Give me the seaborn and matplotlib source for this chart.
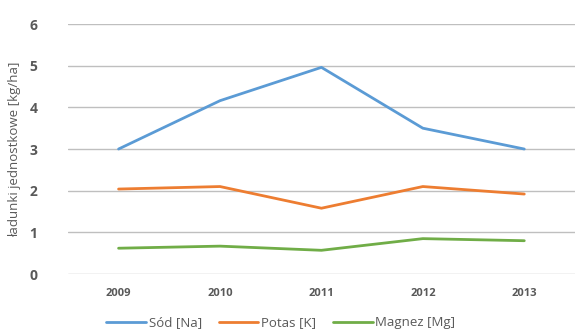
import pandas as pd
import matplotlib
matplotlib.use("Agg")
import matplotlib.pyplot as plt
import seaborn as sns

# values
years = ["2009", "2010", "2011", "2012", "2013"]
sod = [3.0, 4.16, 4.96, 3.5, 3.0]
potas = [2.04, 2.1, 1.58, 2.1, 1.92]
magnez = [0.62, 0.67, 0.57, 0.85, 0.8]
series = ["Sód [Na]", "Potas [K]", "Magnez [Mg]"]
colors = ["#5B9BD5", "#ED7D31", "#70AD47"]

df = pd.DataFrame({
    "rok": years * 3,
    "wartosc": sod + potas + magnez,
    "seria": [series[0]] * 5 + [series[1]] * 5 + [series[2]] * 5,
})

sns.set_style("white")
plt.rcParams["font.family"] = ["Open Sans", "DejaVu Sans"]

fig = plt.figure(figsize=(5.75, 3.29), dpi=100)
ax = fig.add_axes([0.118, 0.167, 0.882, 0.76])

sns.lineplot(data=df, x="rok", y="wartosc", hue="seria", palette=colors,
             linewidth=2.0, ax=ax, sort=False)

ax.set_xlim(-0.5, 4.5)
ax.set_ylim(0, 6)
ax.set_yticks(range(0, 7))
ax.yaxis.grid(True, color="#BFBFBF", linewidth=1.0)
ax.set_axisbelow(True)
for s in ax.spines.values():
    s.set_visible(False)
ax.tick_params(axis="both", length=0, colors="#595959")
ax.tick_params(axis="y", labelsize=10, pad=22)
ax.tick_params(axis="x", labelsize=8, pad=10)
for lab in ax.get_yticklabels() + ax.get_xticklabels():
    lab.set_fontweight("bold")
ax.set_xlabel("")
ax.set_ylabel("ładunki jednostkowe [kg/ha]", fontsize=9.5, color="#595959", labelpad=6)

ax.legend(loc="center", bbox_to_anchor=(0.42, -0.195), ncol=3, frameon=False,
          fontsize=9.5, handlelength=3.0, handletextpad=0.2, columnspacing=1.3,
          labelcolor="#595959", borderpad=0)

fig.savefig("out.png", dpi=100)
